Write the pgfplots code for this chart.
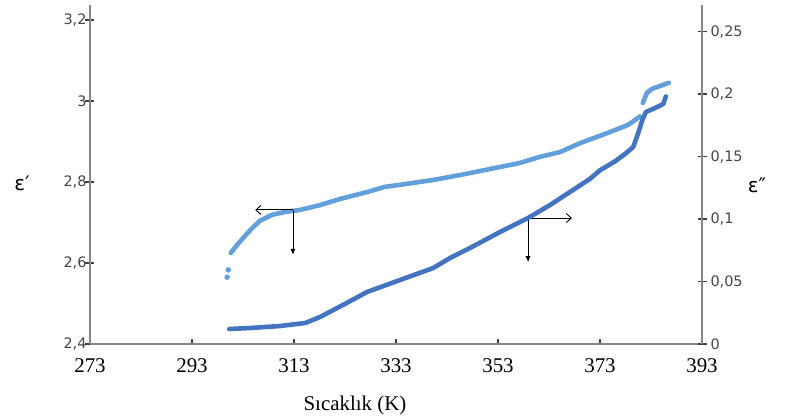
\documentclass[border=0pt]{standalone}
\usepackage{pgfplots}
\pgfplotsset{compat=1.18}
\usepackage{fontspec}
\setmainfont{Liberation Serif}
\newfontfamily\dejavu{DejaVu Sans}
\usetikzlibrary{arrows.meta}
\definecolor{epsone}{RGB}{98,160,220}
\definecolor{epstwo}{RGB}{66,116,192}
\definecolor{axgray}{RGB}{134,134,134}
\definecolor{lblgray}{RGB}{70,70,70}

\begin{document}
\begin{tikzpicture}
\pgfplotsset{
  base/.style={
    scale only axis, width=612bp, height=339bp,
    xmin=273, xmax=393,
    axis line style={axgray, line width=1.3bp},
    major tick length=9bp,
    tick style={black!75, line width=1.1bp},
    /pgf/number format/assume math mode=true,
    /pgf/number format/use comma,
  },
}
\path[use as bounding box] (-90bp,-75bp) rectangle (704bp,344bp);

\begin{axis}[base,
  ymin=2.4, ymax=3.2370,
  axis x line*=bottom, axis y line*=left,
  xtick={273,293,313,333,353,373,393},
  ytick={2.4,2.6,2.8,3,3.2},
  tick align=inside,
  ytick style={xshift=-4.5bp},
  xtick style={dash pattern=on 5bp off 20bp},
  xticklabel style={font=\fontsize{21}{21}\selectfont, text=black, yshift=-11bp},
  yticklabel style={font=\dejavu\fontsize{14.5}{14.5}\selectfont, text=lblgray},
]
\addplot[only marks, mark=*, mark size=2.5bp, color=epsone] coordinates {
 (299.9,2.565) (300.1,2.583)
};
\addplot[color=epsone, line width=4.6bp, line join=round, line cap=round] coordinates {
 (300.6,2.625) (302.0,2.647) (303.4,2.667) (304.8,2.686) (306.3,2.704)
 (308.7,2.719) (311.2,2.726) (314.2,2.731) (318.1,2.743) (322.0,2.758)
 (327.3,2.775) (330.8,2.788) (333.8,2.793) (340.3,2.805) (345.5,2.817)
 (353.4,2.837) (357.3,2.847) (361.2,2.862) (365.2,2.874) (369.1,2.896)
 (373.0,2.914) (375.5,2.926) (378.5,2.941) (379.9,2.953) (380.8,2.962)
};
\addplot[color=epsone, line width=4.6bp, line join=round, line cap=round] coordinates {
 (381.4,2.995) (382.2,3.020) (383.2,3.030) (384.8,3.037) (386.5,3.045)
};
\draw[line width=0.9bp, -{Straight Barb[length=5bp,width=9bp]}] (axis cs:312.8,2.731) -- (axis cs:305.4,2.731);
\draw[line width=0.9bp, -{Latex[length=6bp,width=5bp]}] (axis cs:312.8,2.731) -- (axis cs:312.8,2.620);
\draw[line width=0.9bp, -{Straight Barb[length=5bp,width=9bp]}] (axis cs:358.9,2.711) -- (axis cs:367.5,2.711);
\draw[line width=0.9bp, -{Latex[length=6bp,width=5bp]}] (axis cs:358.9,2.711) -- (axis cs:358.9,2.602);
\end{axis}

\begin{axis}[base,
  ymin=0, ymax=0.2712,
  axis x line=none, axis y line*=right,
  ytick={0,0.05,0.1,0.15,0.2,0.25},
  tick align=inside,
  ytick style={xshift=4.5bp},
  yticklabel style={font=\dejavu\fontsize{14.5}{14.5}\selectfont, text=lblgray, xshift=5bp,
    /pgf/number format/fixed},
]
\addplot[color=epstwo, line width=4.6bp, line join=round, line cap=round] coordinates {
 (300.3,0.0120) (304.4,0.0128) (310.3,0.0144) (315.2,0.0168) (318.1,0.0216)
 (322.6,0.0312) (327.3,0.0416) (333.8,0.0512) (340.3,0.0608) (343.6,0.0688)
 (347.5,0.0768) (353.4,0.0896) (358.9,0.1008) (363.2,0.1112) (367.1,0.1216)
 (371.0,0.1320) (373.0,0.1390) (375.9,0.1460) (377.9,0.1520) (379.5,0.1576)
 (380.5,0.1688) (381.3,0.1792) (382.0,0.1856) (383.8,0.1888) (385.4,0.1920)
 (385.9,0.1980)
};
\end{axis}

\node[font=\dejavu\fontsize{20}{20}\selectfont, text=black] at (-68bp,161bp) {ε′};
\node[font=\dejavu\fontsize{20}{20}\selectfont, text=black] at (667bp,159bp) {ε″};
\node[font=\fontsize{21}{21}\selectfont, text=black] at (265bp,-61bp) {Sıcaklık (K)};
\end{tikzpicture}
\end{document}
